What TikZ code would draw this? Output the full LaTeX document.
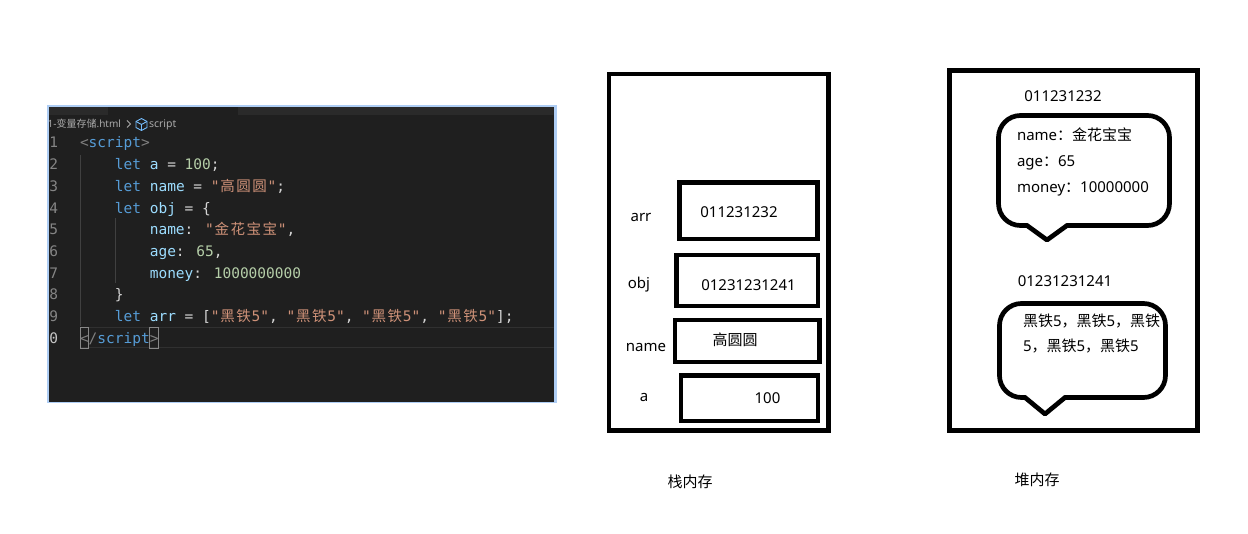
\documentclass[tikz,border=0pt]{standalone}
\usepackage{fontspec}
\setmainfont{Noto Sans}
\newfontfamily\cjk{Noto Sans CJK SC}
\newfontfamily\codefont{DejaVu Sans Mono}
\newcommand\zh[1]{{\cjk #1}}
\newcommand\zz[1]{\makebox[16pt]{\cjk #1}}
\definecolor{kw}{HTML}{569CD6}
\definecolor{var}{HTML}{9CDCFE}
\definecolor{str}{HTML}{CE9178}
\definecolor{num}{HTML}{B5CEA8}
\definecolor{pun}{HTML}{D4D4D4}
\definecolor{tag}{HTML}{808080}
\definecolor{lnum}{HTML}{858585}
\definecolor{lnumact}{HTML}{C6C6C6}
\definecolor{edbg}{HTML}{1F1F1F}
\definecolor{tabbg}{HTML}{2A2A2A}
\definecolor{frameblue}{HTML}{AECDF4}
\definecolor{crumb}{HTML}{A9A9A9}
\definecolor{guide}{HTML}{404040}
\definecolor{curline}{HTML}{303030}
\definecolor{iconblue}{HTML}{75BEFF}
\definecolor{matchbox}{HTML}{888888}
\tikzset{
  every node/.style={inner sep=0pt, outer sep=0pt},
  membox/.style={draw=black, line width=4.7pt},
  bubble/.style={draw=black, line width=4.7pt, line cap=round, line join=round},
  lbl/.style={font=\fontsize{15}{18}\selectfont, anchor=base, text=black},
  lblw/.style={font=\fontsize{15}{18}\selectfont, anchor=base west, text=black},
  code/.style={font=\fontsize{14.5}{17}\codefont, anchor=base west, text=pun},
  lno/.style={font=\fontsize{14.5}{17}\codefont, anchor=base east, text=lnum},
}
\begin{document}
\begin{tikzpicture}[x=1pt,y=-1pt]
\useasboundingbox (0,0) rectangle (1248,534);
\fill[white] (0,0) rectangle (1248,534);

% ---------- code editor ----------
\fill[frameblue] (47,105.5) rectangle (557,403.5);
\fill[edbg] (49,107) rectangle (553.5,402);
\begin{scope}
\clip (49,107) rectangle (553.5,402);
\fill[tabbg] (49,107) rectangle (553.5,115.5);
\fill[edbg] (108,107) rectangle (238,115.5);
% breadcrumb
\node[anchor=base east, font=\fontsize{10}{12}\selectfont, text=crumb] (crumbfile) at (121,128) {1-\zh{变量存储}.html};
\draw[crumb, line width=0.9pt] (127,120.5) -- (130.5,124) -- (127,127.5);
\draw[iconblue, line width=0.9pt, line join=round] (141.5,118.5) -- (147,121.5) -- (147,127.5) -- (141.5,130.5) -- (136,127.5) -- (136,121.5) -- cycle;
\draw[iconblue, line width=0.9pt, line join=round] (136,121.5) -- (141.5,124.5) -- (147,121.5) (141.5,124.5) -- (141.5,130.5);
\node[anchor=base west, font=\fontsize{10.5}{12}\selectfont, text=crumb] (crumbscript) at (149,128) {script};
% current line and guides
\draw[curline, line width=1pt] (80,327.5) -- (553.5,327.5) (80,348) -- (553.5,348);
\draw[guide, line width=1pt] (80.5,155) -- (80.5,326);
\draw[guide, line width=1pt] (115.5,218) -- (115.5,283);
\draw[matchbox, line width=0.8pt] (80,327.5) rectangle (88.7,348);
\draw[matchbox, line width=0.8pt] (149.8,327.5) rectangle (158.6,348);
% line numbers
\node[lno] (n1) at (58,148) {1};
\node[lno] (n2) at (58,169.7) {2};
\node[lno] (n3) at (58,191.4) {3};
\node[lno] (n4) at (58,213.1) {4};
\node[lno] (n5) at (58,234.8) {5};
\node[lno] (n6) at (58,256.5) {6};
\node[lno] (n7) at (58,278.2) {7};
\node[lno] (n8) at (58,299.9) {8};
\node[lno] (n9) at (58,321.6) {9};
\node[lno, text=lnumact] (n10) at (58,343.3) {10};
% code
\node[code] (c1) at (80,148) {\textcolor{tag}{<}\textcolor{kw}{script}\textcolor{tag}{>}};
\node[code] (c2) at (114.9,169.7) {\textcolor{kw}{let} \textcolor{var}{a} = \textcolor{num}{100};};
\node[code] (c3) at (114.9,191.4) {\textcolor{kw}{let} \textcolor{var}{name} = \textcolor{str}{"\zz{高}\zz{圆}\zz{圆}"};};
\node[code] (c4) at (114.9,213.1) {\textcolor{kw}{let} \textcolor{var}{obj} = \{};
\node[code] (c5) at (149.8,234.8) {\textcolor{var}{name}: \textcolor{str}{"\zz{金}\zz{花}\zz{宝}\zz{宝}"},};
\node[code] (c6) at (149.8,256.5) {\textcolor{var}{age}: \textcolor{num}{65},};
\node[code] (c7) at (149.8,278.2) {\textcolor{var}{money}: \textcolor{num}{1000000000}};
\node[code] (c8) at (114.9,299.9) {\}};
\node[code] (c9) at (114.9,321.6) {\textcolor{kw}{let} \textcolor{var}{arr} = [\textcolor{str}{"\zz{黑}\zz{铁}5"}, \textcolor{str}{"\zz{黑}\zz{铁}5"}, \textcolor{str}{"\zz{黑}\zz{铁}5"}, \textcolor{str}{"\zz{黑}\zz{铁}5"}];};
\node[code] (c10) at (80,343.3) {\textcolor{tag}{</}\textcolor{kw}{script}\textcolor{tag}{>}};
\end{scope}

% ---------- stack memory ----------
\node[membox, minimum width=219.5pt, minimum height=356.5pt] (stack) at (718.75,252.25) {};
\node[membox, minimum width=138pt, minimum height=56.5pt] (arrbox) at (748.5,210.75) {};
\node[membox, minimum width=141.5pt, minimum height=51pt] (objbox) at (747.25,280.5) {};
\node[membox, minimum width=144.5pt, minimum height=42pt] (namebox) at (747.25,341) {};
\node[membox, minimum width=137pt, minimum height=45.5pt] (abox) at (749.5,398.25) {};
\node[lbl] (arrlbl) at (641,222) {arr};
\node[lbl] (arrval) at (739,217.7) {011231232};
\node[lbl] (objlbl) at (639,288.5) {obj};
\node[lbl] (objval) at (748.5,291) {01231231241};
\node[lbl] (namelbl) at (646,352) {name};
\node[lbl, font=\fontsize{15}{18}\cjk, anchor=center] (nameval) at (735,340) {高圆圆};
\node[lbl] (albl) at (644,402) {a};
\node[lbl] (aval) at (767.5,404) {100};
\node[font=\fontsize{15}{18}\cjk] (stacktitle) at (690,482) {栈内存};

% ---------- heap memory ----------
\node[membox, minimum width=248pt, minimum height=360pt] (heap) at (1073.5,250.5) {};
\draw[bubble, rounded corners=22pt] (1027,225.5) -- (998.5,225.5) -- (998.5,115.5) -- (1169.5,115.5) -- (1169.5,225.5) -- (1067,225.5);
\draw[bubble] (1027,225.5) -- (1047,240) -- (1067,225.5);
\draw[bubble, rounded corners=22pt] (1025,397.5) -- (999.5,397.5) -- (999.5,303.5) -- (1165.5,303.5) -- (1165.5,397.5) -- (1065,397.5);
\draw[bubble] (1025,397.5) -- (1045,414) -- (1065,397.5);
\node[lbl] (addr1) at (1063,101.7) {011231232};
\node[lblw] (p1) at (1017,141) {name\zh{：金花宝宝}};
\node[lblw] (p2) at (1017,166.7) {age\zh{：}65};
\node[lblw] (p3) at (1017,192.7) {money\zh{：}10000000};
\node[lbl] (addr2) at (1065,286.7) {01231231241};
\node[lblw] (e1) at (1023,326.7) {\zh{黑铁}5\zh{，黑铁}5\zh{，黑铁}};
\node[lblw] (e2) at (1023,352) {5\zh{，黑铁}5\zh{，黑铁}5};
\node[font=\fontsize{15}{18}\cjk] (heaptitle) at (1037,480) {堆内存};
\end{tikzpicture}
\end{document}
